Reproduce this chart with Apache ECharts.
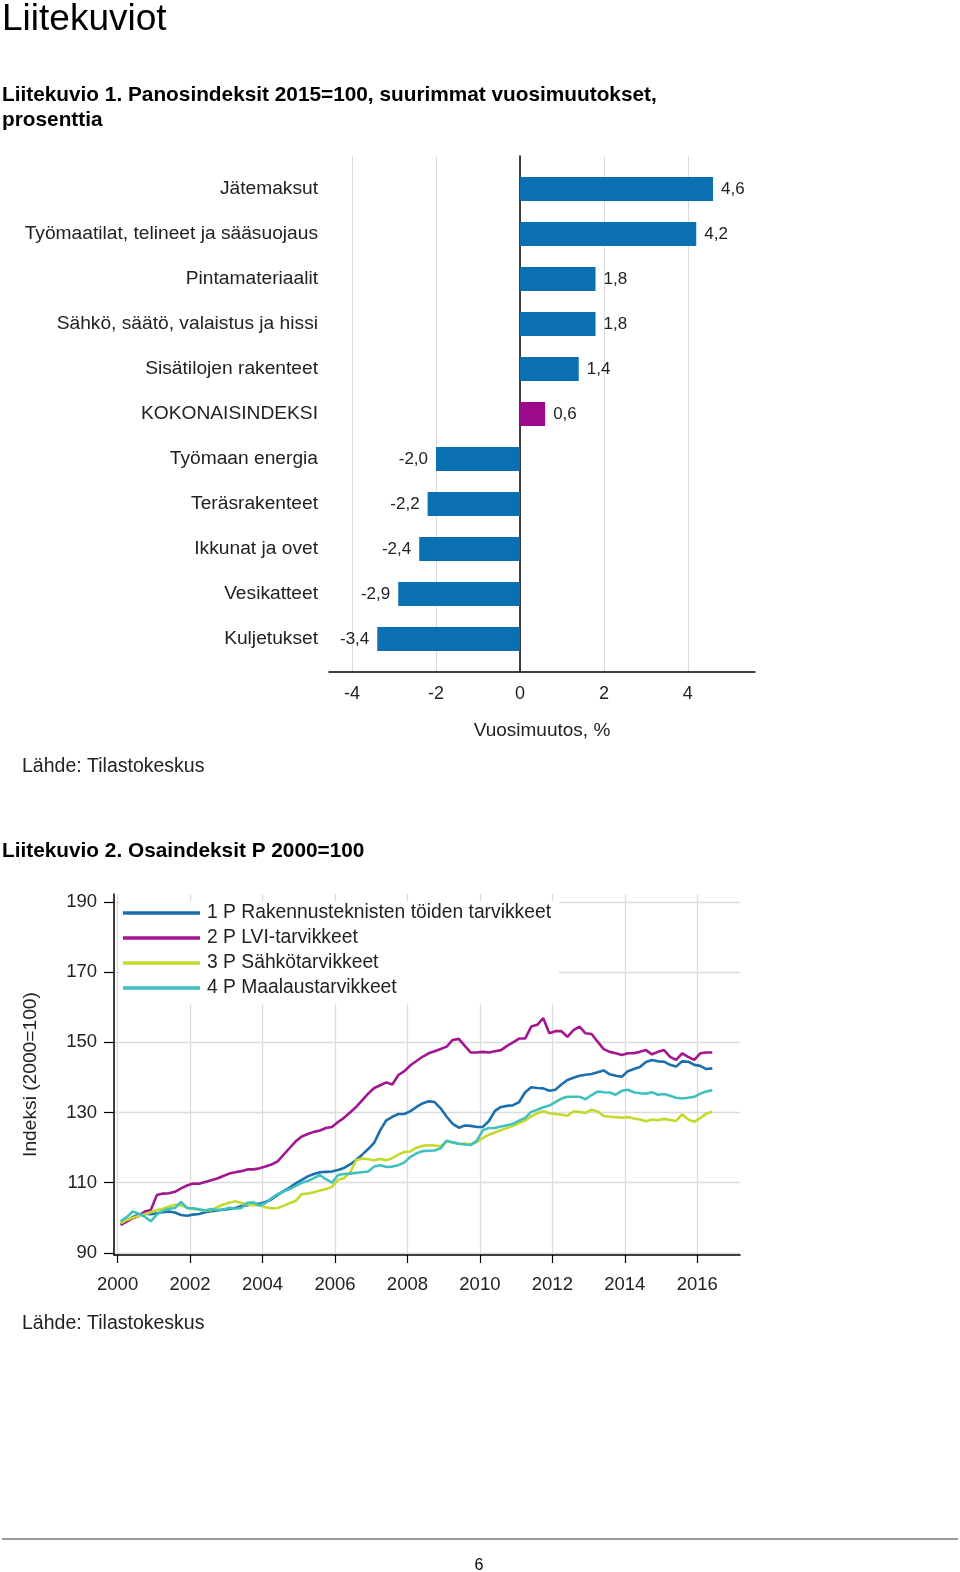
<!DOCTYPE html>
<html><head><meta charset="utf-8">
<script src="https://cdn.jsdelivr.net/npm/echarts@6/dist/echarts.min.js"></script>
<style>html,body{margin:0;padding:0;background:#fff}#c{width:960px;height:1572px}</style>
</head><body><div id="c"></div>
<script>
const FONT = '"Liberation Sans", Arial, Helvetica, sans-serif';

// ---- Chart 1: annual changes (%) ----
const barCategories = ['Jätemaksut','Työmaatilat, telineet ja sääsuojaus','Pintamateriaalit','Sähkö, säätö, valaistus ja hissi','Sisätilojen rakenteet','KOKONAISINDEKSI','Työmaan energia','Teräsrakenteet','Ikkunat ja ovet','Vesikatteet','Kuljetukset'];
const barValues = [4.6, 4.2, 1.8, 1.8, 1.4, 0.6, -2.0, -2.2, -2.4, -2.9, -3.4];
const barHighlight = 'KOKONAISINDEKSI';
const barTicks = [-4, -2, 0, 2, 4];

// ---- Chart 2: sub-indices 2000=100, every second month from Feb 2000 ----
const lineStartYear = 2000, lineStartMonth = 2, lineStepMonths = 2;
const seriesNames = ['1 P Rakennusteknisten töiden tarvikkeet','2 P LVI-tarvikkeet','3 P Sähkötarvikkeet','4 P Maalaustarvikkeet'];
const rakennus = [
 98.0, 99.2,100.2,101.0,101.2,101.0,
 101.3,101.6,101.8,101.5,100.8,100.6,
 100.9,101.1,101.6,101.9,102.1,102.3,
 102.5,102.8,103.4,103.6,104.0,104.0,
 104.5,105.3,106.5,107.6,108.6,109.8,
 110.8,111.8,112.5,113.0,113.1,113.2,
 113.6,114.2,115.2,116.5,118.0,119.6,
 121.4,125.0,127.8,128.8,129.6,129.6,
 130.4,131.6,132.6,133.2,133.0,131.2,
 128.8,126.8,125.7,126.3,126.2,125.9,
 125.9,127.6,130.5,131.6,131.9,132.1,
 133.0,135.8,137.2,137.0,136.9,136.2,
 136.5,138.0,139.3,139.9,140.5,140.8,
 141.0,141.5,142.0,140.9,140.5,140.2,
 141.8,142.4,143.0,144.4,145.0,144.6,
 144.5,143.6,143.1,144.6,144.5,143.6,
 143.3,142.4,142.6];
const lvi = [
 98.0, 98.9, 99.9,100.5,101.8,102.2,
 106.5,106.9,107.0,107.4,108.4,109.2,
 109.8,109.7,110.2,110.7,111.2,111.9,
 112.6,113.0,113.3,113.8,113.8,114.1,
 114.6,115.2,116.1,118.0,119.9,121.8,
 123.2,123.9,124.5,124.9,125.6,125.9,
 127.3,128.5,130.0,131.6,133.5,135.4,
 137.0,137.8,138.6,138.0,140.7,141.8,
 143.5,144.7,145.9,146.9,147.5,148.1,
 148.8,150.7,151.0,149.0,147.1,147.1,
 147.3,147.1,147.5,147.8,149.0,150.0,
 151.1,151.1,154.5,155.0,156.9,152.6,
 153.2,153.2,151.6,153.5,154.5,152.6,
 152.4,150.2,148.1,147.3,146.9,146.4,
 146.9,146.9,147.3,147.8,146.6,147.3,
 147.8,145.9,145.0,146.9,145.9,145.0,
 146.9,147.1,147.1];
const sahko = [
 98.4, 99.4,100.0,100.5,101.0,101.6,
 102.2,102.6,103.2,103.7,103.6,102.9,
 102.5,102.3,102.1,102.2,103.0,103.8,
 104.3,104.7,104.2,103.8,103.6,103.6,
 103.0,102.7,102.8,103.4,104.2,104.8,
 106.8,106.9,107.3,107.8,108.2,108.8,
 110.8,111.3,112.9,116.4,116.9,116.7,
 116.4,116.8,116.4,117.0,118.0,118.8,
 118.9,120.0,120.5,120.7,120.6,120.4,
 121.8,121.5,121.1,121.2,120.9,121.6,
 122.8,123.7,124.3,125.0,125.6,126.2,
 127.0,127.8,128.9,129.8,130.4,129.8,
 129.6,129.4,129.1,130.3,130.2,129.9,
 130.8,130.3,129.0,128.8,128.7,128.5,
 128.7,128.3,128.0,127.5,128.0,127.8,
 128.2,127.9,127.6,129.5,128.0,127.4,
 128.4,129.7,130.2];
const maalaus = [
 99.0,100.2,101.8,101.2,100.3, 99.0,
 101.0,102.0,102.6,102.8,104.5,102.8,
 102.7,102.4,102.1,102.5,102.2,102.4,
 102.9,102.6,102.8,104.3,104.4,103.5,
 104.2,105.6,106.8,107.5,108.2,109.1,
 110.0,110.5,111.3,112.2,111.0,110.0,
 112.2,112.5,112.6,112.8,113.0,113.2,
 114.6,115.0,114.5,114.6,115.0,115.8,
 117.4,118.4,119.0,119.1,119.2,119.8,
 122.0,121.5,121.1,120.9,120.8,122.0,
 125.0,125.6,125.6,126.0,126.4,126.8,
 127.7,128.5,130.2,130.8,131.5,132.0,
 133.0,134.0,134.5,134.5,134.5,133.8,
 135.0,136.0,135.8,135.7,135.1,136.2,
 136.5,135.8,135.5,135.4,135.8,135.1,
 135.3,134.8,134.2,134.0,134.2,134.5,
 135.4,136.0,136.4];
const yearTicks = [2000, 2002, 2004, 2006, 2008, 2010, 2012, 2014, 2016];
const indexTicks = [90, 110, 130, 150, 170, 190];

const BLUE = '#0a70b2', MAGENTA = '#9c0a8c';
const lineColors = ['#1b6fae', '#a3168f', '#c5d82c', '#40c1c0'];
const lineSeriesData = [rakennus, lvi, sahko, maalaus];

function monthX(i) {
  const m = lineStartMonth - 1 + i * lineStepMonths;
  return lineStartYear + m / 12;
}

const chart = echarts.init(document.getElementById('c'), null, {renderer: 'canvas'});

const txt = (x, y, text, font, fill) => ({
  type: 'text', x: x, y: y, silent: true,
  style: {text: text, font: font, fill: fill || '#000', textAlign: 'left', textVerticalAlign: 'middle'}
});

const axisLabelStyle = {fontFamily: FONT, color: '#222'};

const option = {
  animation: false,
  backgroundColor: '#fff',
  textStyle: {fontFamily: FONT},
  graphic: {elements: [
    txt(2, 20, 'Liitekuviot', '37px ' + FONT),
    txt(2, 95, 'Liitekuvio 1. Panosindeksit 2015=100, suurimmat vuosimuutokset,', 'bold 20.8px ' + FONT),
    txt(2, 120, 'prosenttia', 'bold 20.8px ' + FONT),
    txt(22, 767, 'Lähde: Tilastokeskus', '19.5px ' + FONT, '#222'),
    txt(2, 851, 'Liitekuvio 2. Osaindeksit P 2000=100', 'bold 20.8px ' + FONT),
    txt(22, 1324, 'Lähde: Tilastokeskus', '19.5px ' + FONT, '#222'),
    {type: 'line', silent: true, shape: {x1: 2, y1: 1539, x2: 958, y2: 1539}, style: {stroke: '#9a9a9a', lineWidth: 2}},
    {type: 'text', x: 479, y: 1566, silent: true, style: {text: '6', font: '16px ' + FONT, fill: '#000', textAlign: 'center', textVerticalAlign: 'middle'}}
  ]},
  grid: [
    {left: 329, top: 166.5, width: 426, height: 495, outerBoundsMode: 'none', containLabel: false},
    {left: 329, top: 156, width: 426, height: 516, outerBoundsMode: 'none', containLabel: false},
    {left: 114, top: 894, width: 626, height: 361, outerBoundsMode: 'none', containLabel: false}
  ],
  xAxis: [
    {gridIndex: 0, type: 'value', min: -4.55, max: 5.6, show: false},
    {gridIndex: 1, type: 'value', min: -4.55, max: 5.6,
      axisLine: {show: true, onZero: false, lineStyle: {color: '#000', width: 1.5}},
      axisTick: {show: false, customValues: barTicks},
      axisLabel: {customValues: barTicks, fontSize: 18, margin: 13, ...axisLabelStyle},
      splitLine: {show: true, lineStyle: {color: '#d9d9d9', width: 1}},
      name: 'Vuosimuutos, %', nameLocation: 'middle', nameGap: 49,
      nameTextStyle: {fontSize: 19, color: '#222', fontFamily: FONT}},
    {gridIndex: 2, type: 'value', min: 1999.9, max: 2017.18,
      axisLine: {show: true, onZero: false, lineStyle: {color: '#000', width: 1.5}},
      axisTick: {show: true, customValues: yearTicks, length: 8, inside: false, lineStyle: {color: '#000', width: 1.2}},
      axisLabel: {customValues: yearTicks, fontSize: 18.5, margin: 20, formatter: v => String(Math.round(v)), ...axisLabelStyle},
      splitLine: {show: true, lineStyle: {color: '#dcdcdc', width: 1.3}}}
  ],
  yAxis: [
    {gridIndex: 0, type: 'category', inverse: true, data: barCategories,
      axisLine: {show: false, onZero: false}, axisTick: {show: false},
      axisLabel: {fontSize: 19.2, margin: 11, ...axisLabelStyle},
      splitLine: {show: false}},
    {gridIndex: 1, type: 'value', min: 0, max: 1,
      axisLine: {show: true, onZero: true, lineStyle: {color: '#000', width: 1.5}},
      axisTick: {show: false}, axisLabel: {show: false}, splitLine: {show: false}},
    {gridIndex: 2, type: 'value', min: 89.4, max: 192.3,
      axisLine: {show: true, onZero: false, lineStyle: {color: '#000', width: 1.5}},
      axisTick: {show: true, customValues: indexTicks, length: 10, inside: false, lineStyle: {color: '#000', width: 1.2}},
      axisLabel: {customValues: indexTicks, fontSize: 18.5, margin: 17, ...axisLabelStyle},
      splitLine: {show: true, lineStyle: {color: '#dcdcdc', width: 1.3}},
      name: 'Indeksi (2000=100)', nameLocation: 'middle', nameRotate: 90, nameGap: 74,
      nameTextStyle: {fontSize: 19.2, color: '#222', fontFamily: FONT}}
  ],
  legend: {
    show: true, orient: 'vertical', left: 119, top: 901, padding: [2, 8, 6, 4],
    backgroundColor: '#fff', icon: 'rect', itemWidth: 77, itemHeight: 3.5, itemGap: 5,
    textStyle: {fontSize: 19.3, lineHeight: 20, color: '#222', fontFamily: FONT, padding: [0, 0, 0, 2]},
    data: seriesNames, selectedMode: false
  },
  series: [
    {type: 'bar', xAxisIndex: 0, yAxisIndex: 0, barWidth: 24, silent: true,
      data: barValues.map((v, i) => ({
        value: v,
        itemStyle: {color: barCategories[i] === barHighlight ? MAGENTA : BLUE},
        label: {position: v < 0 ? 'left' : 'right'}
      })),
      label: {show: true, distance: 8, fontSize: 17, color: '#222', fontFamily: FONT,
        formatter: p => p.value.toFixed(1).replace('.', ',')}},
    {type: 'line', xAxisIndex: 1, yAxisIndex: 1, data: [], silent: true},
    ...seriesNames.map((name, k) => ({
      name: name, type: 'line', xAxisIndex: 2, yAxisIndex: 2, showSymbol: false, symbol: 'none',
      silent: true, smooth: false, z: 3 + k,
      lineStyle: {color: lineColors[k], width: 2.6},
      itemStyle: {color: lineColors[k]},
      data: lineSeriesData[k].map((v, i) => [monthX(i), v])
    }))
  ]
};
chart.setOption(option);
</script>
</body></html>
